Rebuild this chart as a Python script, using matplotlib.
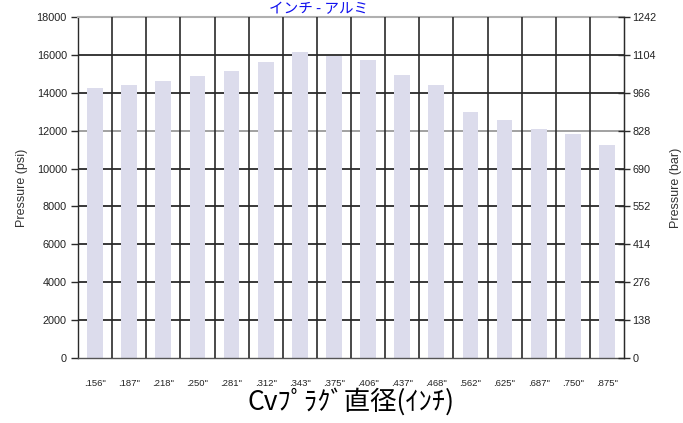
import numpy as np
import matplotlib
matplotlib.use("Agg")
import matplotlib.pyplot as plt

# plug diameters (inch) and rated pressure (psi)
sizes = ['.156"', '.187"', '.218"', '.250"', '.281"', '.312"', '.343"', '.375"',
         '.406"', '.437"', '.468"', '.562"', '.625"', '.687"', '.750"', '.875"']
psi = [14250, 14400, 14600, 14900, 15150, 15600, 16150, 15950,
       15750, 14950, 14400, 13000, 12550, 12100, 11800, 11250]
psi_ticks = [0, 2000, 4000, 6000, 8000, 10000, 12000, 14000, 16000, 18000]
bar_ticks = [0, 138, 276, 414, 552, 690, 828, 966, 1104, 1242]

JP = ["Noto Sans CJK JP", "DejaVu Sans"]
BAR = "#dcdcec"
DARK = "#2a2a2a"

fig = plt.figure(figsize=(6.83, 4.23), dpi=100)
ax = fig.add_axes([78 / 683, 1 - 358 / 423, 546 / 683, 341 / 423])

x = np.arange(len(sizes))
ax.bar(x, psi, width=0.46, color=BAR, zorder=2)

# horizontal grid (behind bars), vertical category separators
for v in psi_ticks[1:-1]:
    col = "#9a9a9a" if v == 12000 else DARK
    ax.axhline(v, color=col, lw=1.3, zorder=1)
for b in np.arange(0.5, len(sizes) - 1, 1.0):
    ax.axvline(b, color=DARK, lw=1.2, zorder=3)

ax.set_xlim(-0.5, len(sizes) - 0.5)
ax.set_ylim(0, 18000)
ax.set_yticks(psi_ticks)
ax.set_xticks(x)
ax.set_xticklabels(sizes, fontsize=6.8, family="Liberation Sans", color="#222")
ax.tick_params(axis="x", length=0, pad=15)
ax.tick_params(axis="y", length=5, width=1, color=DARK, labelsize=7.8, pad=3,
               labelcolor="#222")
for lab in ax.get_yticklabels():
    lab.set_family("Liberation Sans")

ax.spines["top"].set_color("#b0b0b0")
ax.spines["top"].set_linewidth(1.5)
for s in ("left", "bottom", "right"):
    ax.spines[s].set_color(DARK)
    ax.spines[s].set_linewidth(1.0)
ax.spines["bottom"].set_color("#555")

ax.set_ylabel("Pressure (psi)", fontsize=9, family="Liberation Sans", color="#333",
              labelpad=6)

ax2 = ax.twinx()
ax2.set_ylim(0, 1242)
ax2.set_yticks(bar_ticks)
ax2.tick_params(axis="y", length=8, width=1, direction="inout", color=DARK,
                labelsize=7.8, pad=2, labelcolor="#222")
for lab in ax2.get_yticklabels():
    lab.set_family("Liberation Sans")
for s in ("left", "bottom", "top"):
    ax2.spines[s].set_visible(False)
ax2.spines["right"].set_color(DARK)
ax2.set_ylabel("Pressure (bar)", fontsize=9, family="Liberation Sans", color="#333",
               labelpad=10)

ax.set_xlabel("Cvﾌﾟﾗｸﾞ直径(ｲﾝﾁ)", fontsize=19, family=JP, color="black", labelpad=0)

# title sits right at the top edge in the original
fig.text(319 / 683, 1 - 13 / 423, "インチ - アルミ", ha="center", va="baseline",
         fontsize=10.5, family=JP, color="#1010ee")

fig.savefig("out.png", dpi=100)
